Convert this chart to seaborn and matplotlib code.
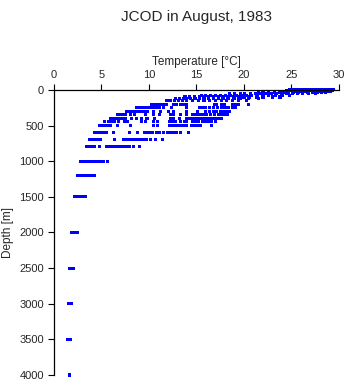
import pandas as pd
import seaborn as sns
import matplotlib.pyplot as plt

sns.set_theme(style="white")
plt.rcParams["font.family"] = ["Liberation Sans", "DejaVu Sans"]

# standard depth levels [m]
depth_levels = [0, 10, 20, 30, 50, 75, 100, 125, 150, 200, 250, 300, 350, 400,
                450, 500, 600, 700, 800, 1000, 1200, 1500, 2000, 2500, 3000,
                3500, 4000]

# temperatures [deg C] observed at each level
t0 = [24.8, 25.1, 25.4, 25.7, 26.0, 26.3, 26.6, 26.9, 27.2, 27.5, 27.8, 28.1,
      28.4, 28.7, 29.0, 29.3, 29.4]
t10 = [24.5, 24.9, 25.3, 25.6, 26.0, 26.4, 26.8, 27.1, 27.5, 27.9, 28.3, 28.6,
       29.0, 29.3]
t20 = [23.8, 24.3, 24.7, 25.1, 25.5, 26.0, 26.4, 26.8, 27.2, 27.6, 28.0, 28.4,
       28.8, 29.1]
t30 = [21.5, 22.0, 22.6, 23.2, 23.7, 24.2, 24.7, 25.2, 25.7, 26.2, 26.7, 27.2,
       27.7, 28.2, 28.6]
t50 = [18.5, 19.0, 19.6, 20.1, 20.7, 21.2, 21.8, 22.3, 22.9, 23.4, 24.0, 24.5,
       25.1, 25.6, 26.2, 26.8, 27.5]
t75 = [15.5, 16.0, 16.5, 17.0, 17.5, 18.1, 18.6, 19.2, 19.7, 20.3, 20.8, 21.4,
       22.0, 22.6, 23.3, 24.0, 24.8]
t100 = [13.8, 14.3, 14.8, 15.3, 15.8, 16.3, 16.8, 17.3, 17.8, 18.3, 18.9, 19.4,
        20.0, 20.6, 21.3, 22.0, 23.0, 23.8]
t125 = [12.8, 13.2, 13.6, 14.0, 14.4, 14.9, 15.3, 15.8, 16.3, 16.8, 17.3, 17.8,
        18.4, 19.0, 19.6, 20.5, 21.5]
t150 = [11.9, 12.3, 12.7, 13.1, 13.5, 14.0, 14.6, 15.2, 15.8, 16.4, 17.0, 17.6,
        18.2, 18.8, 19.4, 20.3]
t200 = [10.3, 10.6, 10.9, 11.2, 11.5, 11.8, 12.6, 12.9, 13.3, 13.6, 14.0, 16.9,
        17.1, 17.6, 17.9, 18.8, 19.1, 19.4, 20.5]
t250 = [8.7, 9.0, 9.3, 9.6, 9.9, 10.2, 10.5, 10.8, 11.1, 11.5, 12.4, 14.0, 15.3,
        15.6, 16.0, 16.4, 16.8, 17.2, 17.6, 18.0, 18.4, 18.8, 19.1]
t300 = [7.6, 7.9, 8.2, 8.5, 8.8, 9.1, 9.4, 9.8, 10.5, 11.2, 12.1, 12.6, 14.0,
        15.1, 16.0, 16.4, 16.8, 17.1, 17.5, 17.8, 18.2, 18.5]
t350 = [6.7, 7.0, 7.3, 7.5, 8.1, 8.5, 9.6, 10.5, 11.1, 12.3, 12.6, 13.3, 14.0,
        14.6, 14.9, 15.2, 15.5, 15.8, 16.1, 16.5, 16.9, 17.3, 17.6, 18.0, 18.3]
t400 = [6.0, 6.3, 6.6, 6.9, 7.2, 7.5, 8.2, 8.7, 9.2, 9.8, 10.6, 12.3, 12.6, 13.2,
        14.0, 14.3, 14.6, 14.9, 15.2, 15.5, 15.8, 16.1, 16.4, 16.7, 17.0, 17.3,
        17.6]
t450 = [5.3, 5.8, 6.1, 6.4, 6.8, 7.4, 7.7, 9.2, 9.6, 10.5, 10.9, 12.2, 12.5,
        12.8, 13.3, 13.7, 14.0, 14.6, 14.9, 15.2, 15.6, 15.9, 16.3, 16.6, 17.0]
t500 = [4.8, 5.1, 5.4, 5.7, 6.0, 6.7, 8.1, 10.5, 10.9, 12.2, 12.5, 12.8, 13.1,
        13.4, 13.7, 14.0, 14.5, 14.8, 15.1, 15.4, 16.6]
t600 = [4.3, 4.6, 4.9, 5.2, 5.5, 6.3, 8.0, 8.8, 9.5, 9.8, 10.1, 10.4, 10.8, 11.1,
        11.5, 12.0, 12.3, 12.6, 12.9, 13.3, 14.2]
t700 = [3.8, 4.1, 4.4, 4.7, 4.9, 6.4, 7.3, 7.6, 7.9, 8.2, 8.5, 8.8, 9.1, 9.4,
        9.7, 10.2, 10.7, 11.4]
t800 = [3.4, 3.7, 4.0, 4.3, 4.8, 5.5, 5.8, 6.1, 6.4, 6.7, 7.0, 7.3, 7.6, 7.9,
        8.4, 9.0]
t1000 = [2.8, 3.1, 3.4, 3.7, 4.0, 4.3, 4.6, 4.9, 5.2, 5.6]
t1200 = [2.5, 2.8, 3.1, 3.4, 3.7, 4.0, 4.3]
t1500 = [2.2, 2.5, 2.8, 3.1, 3.3]
t2000 = [1.9, 2.2, 2.5]
t2500 = [1.6, 1.8, 2.1]
t3000 = [1.5, 1.8]
t3500 = [1.4, 1.7]
t4000 = [1.6]

temps = [t0, t10, t20, t30, t50, t75, t100, t125, t150, t200, t250, t300, t350,
         t400, t450, t500, t600, t700, t800, t1000, t1200, t1500, t2000, t2500,
         t3000, t3500, t4000]

rows = [(t, d) for d, ts in zip(depth_levels, temps) for t in ts]
df = pd.DataFrame(rows, columns=["temp", "depth"])

fig = plt.figure(figsize=(3.48, 3.84), dpi=100)
ax = fig.add_axes([0.155, 0.0234, 0.819, 0.7426])

sns.scatterplot(data=df, x="temp", y="depth", ax=ax, marker="s", s=5,
                color="#0000ff", edgecolor="none", linewidth=0,
                clip_on=False, legend=False)

ax.set_xlim(0, 30)
ax.set_ylim(4000, 0)
ax.set_xticks(range(0, 31, 5))
ax.set_yticks(range(0, 4001, 500))
ax.xaxis.tick_top()
ax.xaxis.set_label_position("top")
ax.set_xlabel("Temperature [°C]", fontsize=8.5, labelpad=4)
ax.set_ylabel("Depth [m]", fontsize=8.5, labelpad=4)
ax.tick_params(axis="both", labelsize=8, length=4, width=0.8, direction="out",
               color="black", pad=3)
ax.tick_params(axis="x", top=True, bottom=False)
ax.tick_params(axis="y", left=True)

for side in ["right", "bottom"]:
    ax.spines[side].set_visible(False)
for side in ["left", "top"]:
    ax.spines[side].set_color("black")
    ax.spines[side].set_linewidth(0.9)

fig.text(0.565, 0.975, "JCOD in August, 1983", ha="center", va="top",
         fontsize=11)

fig.savefig("out.png", dpi=100)
